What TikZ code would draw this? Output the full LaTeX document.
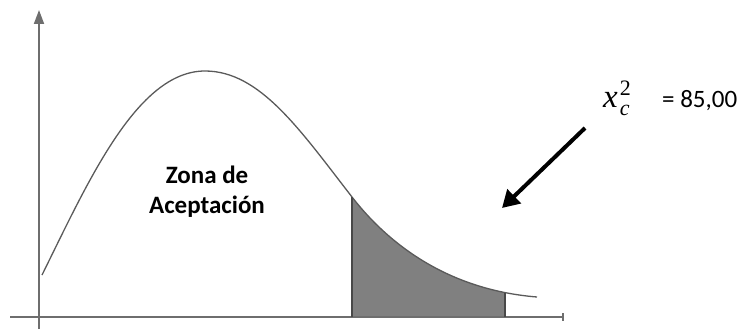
\documentclass[tikz,border=0pt]{standalone}
\usepackage{fontspec}
\setmainfont{Carlito}
\newfontfamily\serifmath{Liberation Serif}
\usetikzlibrary{arrows.meta}
\definecolor{axisgray}{HTML}{6E6E6E}
\definecolor{curvegray}{HTML}{5A5A5A}
\definecolor{shadegray}{HTML}{808080}
\tikzset{
  axisline/.style={draw=axisgray, line width=1.8pt},
  curveline/.style={draw=curvegray, line width=1.3pt},
  edgeline/.style={draw=curvegray!80!black, line width=1.6pt},
  bigarrow/.style={draw=black, line width=4pt, -{Triangle[length=17pt,width=19pt]}},
  bigtext/.style={font=\fontsize{25}{30}\selectfont, inner sep=0pt},
}
\newcommand{\scriptpart}[1]{{\fontsize{22}{22}\selectfont #1}}
\begin{document}
\begin{tikzpicture}[x=1pt,y=-1pt]
\useasboundingbox (0,0) rectangle (743,329);
\def\curvepath{(42,275) .. controls (88,182) and (137,71) .. (205,71) .. controls (260,71) and (300,130) .. (352,197) .. controls (390,246) and (450,290) .. (537,297)}
% shaded region
\begin{scope}
  \clip (352,0) rectangle (505,317);
  \fill[shadegray] \curvepath -- (537,317) -- (42,317) -- cycle;
\end{scope}
% axes
\coordinate (ybot) at (39,329);
\coordinate (ytop) at (39,10);
\coordinate (xl) at (10,317);
\coordinate (xr) at (564,317);
\draw[axisline, -{Triangle[length=14pt,width=10pt]}] (ybot) -- (ytop);
\draw[axisline, -{Bar[width=8pt]}] (xl) -- (xr);
% curve
\draw[curveline] \curvepath;
% shade edges
\coordinate (s1t) at (352,197);
\coordinate (s1b) at (352,317);
\coordinate (s2t) at (505,293);
\coordinate (s2b) at (505,317);
\draw[edgeline] (s1t) -- (s1b);
\draw[edgeline] (s2t) -- (s2b);
% texts
\node[bigtext, align=center, font=\fontsize{25}{30}\selectfont\bfseries] (zona) at (207,192) {Zona de\\Aceptación};
\node[inner sep=0pt, anchor=base west, font=\fontsize{33}{34}\selectfont\serifmath] (stat) at (603,107)
  {\textit{x}\kern2pt\rlap{\raisebox{-8pt}{\scriptpart{\itshape c}}}\raisebox{12pt}{\scriptpart{2}}};
\node[bigtext, anchor=base west] (val) at (662,107) {= 85,00};
% arrow
\coordinate (astart) at (585,128);
\coordinate (aend) at (502,208);
\draw[bigarrow] (astart) -- (aend);
\end{tikzpicture}
\end{document}
